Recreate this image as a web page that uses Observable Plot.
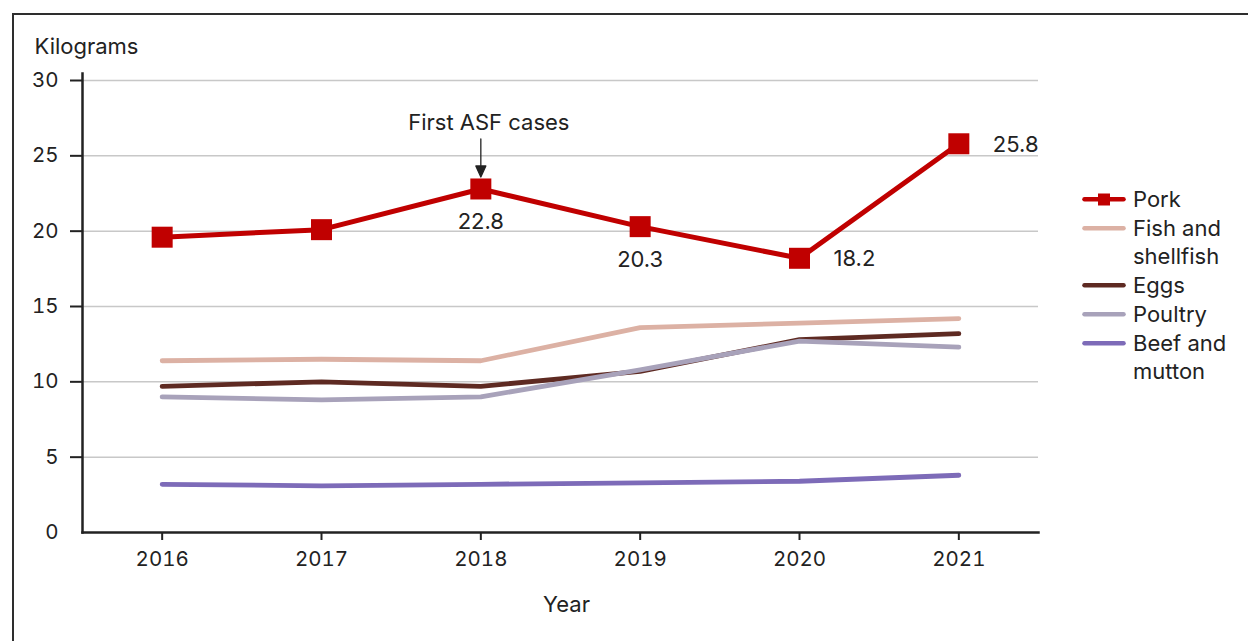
<!DOCTYPE html>
<html><head><meta charset="utf-8">
<script src="https://cdn.jsdelivr.net/npm/d3@7"></script>
<script src="https://cdn.jsdelivr.net/npm/@observablehq/plot@0.6"></script>
<style>
body{margin:0;background:#fff;width:1248px;height:641px;overflow:hidden;position:relative;font-family:Inter,sans-serif;color:#222}
#frame{position:absolute;left:12px;top:12.5px;width:1300px;height:700px;border-top:2px solid #2e2e2e;border-left:2px solid #2e2e2e}
#chart{position:absolute;left:0;top:0}
#legend{position:absolute;left:1082px;top:185px;font-size:22px;line-height:28.7px;color:#222}
.item{display:flex;align-items:flex-start}
.item svg{flex:none;margin-right:7px}
</style></head><body>
<div id="frame"></div><div id="chart"></div><div id="legend"></div>
<script>
const years = [2016, 2017, 2018, 2019, 2020, 2021];
const pork = [19.6, 20.1, 22.8, 20.3, 18.2, 25.8];
const fish = [11.4, 11.5, 11.4, 13.6, 13.9, 14.2];
const eggs = [9.7, 10.0, 9.7, 10.7, 12.8, 13.2];
const poultry = [9.0, 8.8, 9.0, 10.8, 12.7, 12.3];
const beef = [3.2, 3.1, 3.2, 3.3, 3.4, 3.8];
const seriesNames = ["Pork", "Fish and shellfish", "Eggs", "Poultry", "Beef and mutton"];
const legendLines = [["Pork"], ["Fish and", "shellfish"], ["Eggs"], ["Poultry"], ["Beef and", "mutton"]];
const colors = ["#c00000", "#dcb1a4", "#5e2a22", "#a8a2ba", "#7d6bb8"];
const yTicks = [0, 5, 10, 15, 20, 25, 30];
const labelsBelow = [2018, 2019];
const labelsRight = [2020, 2021];
const annotation = [{year: 2018, text: "First ASF cases"}];
const yLabel = "Kilograms";
const xLabel = "Year";

const values = [pork, fish, eggs, poultry, beef];
const rows = seriesNames.flatMap((s, i) => values[i].map((v, j) => ({series: s, year: years[j], value: v})));
const colorOf = Object.fromEntries(seriesNames.map((s, i) => [s, colors[i]]));
const porkRows = rows.filter(d => d.series === "Pork");
const drawOrder = ["Beef and mutton", "Fish and shellfish", "Eggs", "Poultry"];
const annRows = annotation.map(a => ({...a, value: pork[years.indexOf(a.year)]}));

const arrowShape = {
  draw(context, l) {
    const h = 11, w = 5;
    context.moveTo(0, 0);
    context.lineTo(0, -l + h);
    context.moveTo(-w, h - l);
    context.lineTo(0, -l);
    context.lineTo(w, h - l);
    context.closePath();
  }
};

const chart = Plot.plot({
  width: 1248, height: 641,
  marginTop: 80, marginLeft: 82, marginRight: 210, marginBottom: 109,
  style: {fontFamily: "Inter, sans-serif", fontSize: "20px", color: "#222", background: "transparent", overflow: "visible"},
  x: {type: "linear", domain: [2015.5, 2021.5]},
  y: {domain: [0, 30]},
  marks: [
    Plot.gridY(yTicks.slice(1), {stroke: "#c8c8c8", strokeOpacity: 1, strokeWidth: 1.5}),
    Plot.axisY(yTicks.slice(1), {tickSize: 12, tickPadding: 12, strokeWidth: 2, fontSize: 20.5, label: null}),
    Plot.axisY([0], {tickSize: 0, tickPadding: 24, fontSize: 20.5, label: null}),
    Plot.axisX(years, {tickSize: 8, tickPadding: 11, strokeWidth: 2, fontSize: 20.5, tickFormat: d => String(d), label: null}),
    Plot.frame({anchor: "left", insetTop: -7, strokeWidth: 2.5, stroke: "#222"}),
    Plot.frame({anchor: "bottom", strokeWidth: 2.5, stroke: "#222"}),
    Plot.text([yLabel], {frameAnchor: "top-left", text: d => d, dx: -48, dy: -34, textAnchor: "start", lineAnchor: "middle", fontSize: 22}),
    Plot.text([xLabel], {frameAnchor: "bottom", text: d => d, dx: 6, dy: 72, lineAnchor: "middle", fontSize: 22}),
    ...drawOrder.map(s => Plot.line(rows.filter(d => d.series === s), {
      x: "year", y: "value", stroke: colorOf[s], strokeWidth: 4.8, strokeLinecap: "round", strokeLinejoin: "round"
    })),
    Plot.line(porkRows, {x: "year", y: "value", stroke: colorOf["Pork"], strokeWidth: 5, strokeLinejoin: "miter"}),
    Plot.dot(porkRows, {x: "year", y: "value", symbol: "square", r: 11.85, fill: colorOf["Pork"], stroke: "none"}),
    Plot.text(porkRows.filter(d => labelsBelow.includes(d.year)), {x: "year", y: "value", text: d => d.value.toFixed(1), dy: 33, fontSize: 22}),
    Plot.text(porkRows.filter(d => labelsRight.includes(d.year)), {x: "year", y: "value", text: d => d.value.toFixed(1), dx: 34, dy: 1, textAnchor: "start", fontSize: 22}),
    Plot.vector(annRows, {x: "year", y: "value", length: 38, rotate: 180, anchor: "end", dy: -12, shape: arrowShape, stroke: "#222", fill: "#222", strokeWidth: 1.3}),
    Plot.text(annRows, {x: "year", y: "value", text: "text", dx: 8, dy: -66, fontSize: 22})
  ]
});
document.getElementById("chart").append(chart);

const legend = document.getElementById("legend");
seriesNames.forEach((s, i) => {
  const item = document.createElement("div");
  item.className = "item";
  const sq = s === "Pork" ? `<rect x="16" y="8.5" width="12" height="12" fill="${colors[i]}"/>` : "";
  item.innerHTML = `<svg width="44" height="28.7"><line x1="2.5" x2="41.5" y1="14.35" y2="14.35" stroke="${colors[i]}" stroke-width="4.5" stroke-linecap="round"/>${sq}</svg><div>${legendLines[i].join("<br>")}</div>`;
  legend.append(item);
});
</script>
</body></html>
